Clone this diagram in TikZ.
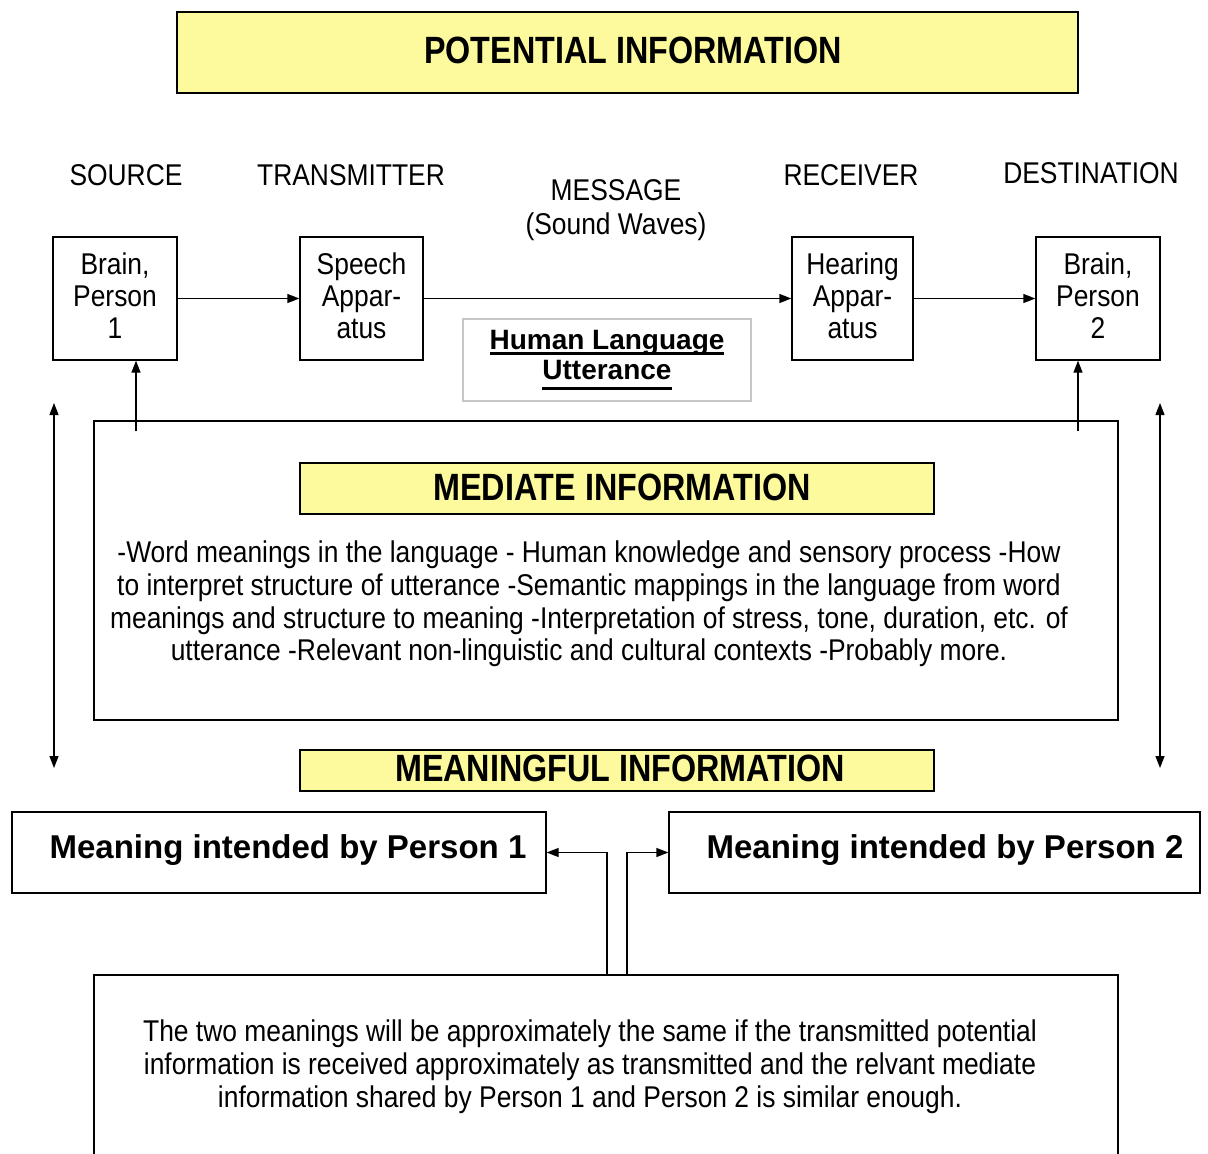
\documentclass[tikz,border=0pt]{standalone}
\usepackage{fontspec}
\setmainfont{Liberation Sans}
\newfontfamily\cnd{Liberation Sans}[FakeStretch=0.88]
\newfontfamily\cndt{Liberation Sans}[FakeStretch=0.85]
\usetikzlibrary{arrows.meta}
\definecolor{pale}{RGB}{252,250,156}
\newcommand\thickul[2]{\setbox0\hbox{#2}\rlap{\rule[#1]{\wd0}{3pt}}\box0}
\tikzset{
  box/.style={draw, line width=1.3pt, inner sep=0pt, align=center},
  ybox/.style={box, fill=pale},
  lbl/.style={font=\cnd\fontsize{30}{32}\selectfont, align=center, inner sep=0pt},
  ttl/.style={font=\cndt\bfseries\fontsize{38}{40}\selectfont, inner sep=0pt},
  body/.style={font=\cnd\fontsize{30}{32.7}\selectfont, align=center, inner sep=0pt},
  arr/.style={line width=1.3pt, -{Triangle[length=12pt,width=9pt]}},
  darr/.style={line width=1.3pt, {Triangle[length=12pt,width=9pt]}-{Triangle[length=12pt,width=9pt]}}
}
\begin{document}
\begin{tikzpicture}[x=1pt,y=-1pt]
\useasboundingbox (0,0) rectangle (1208,1154);
% potential information
\node[ybox, minimum width=901pt, minimum height=81pt] (pot) at (627.5,52.5) {};
\node[ttl] (potT) at (633,50) {POTENTIAL INFORMATION};
% header labels
\node[lbl] (src) at (126,175) {SOURCE};
\node[lbl] (trn) at (351,175) {TRANSMITTER};
\node[lbl, font=\cnd\fontsize{30}{34}\selectfont] (msg) at (616,210) {MESSAGE\\(Sound Waves)};
\node[lbl] (rcv) at (851,175) {RECEIVER};
\node[lbl] (dst) at (1091,173) {DESTINATION};
% chain boxes
\node[box, lbl, draw, line width=1.3pt, minimum width=124pt, minimum height=123pt] (p1) at (115,298.5) {Brain,\\Person\\1\vphantom{)}};
\node[box, lbl, draw, line width=1.3pt, minimum width=123pt, minimum height=123pt] (sp) at (361.5,298.5) {Speech\\Appar-\\atus\vphantom{p}};
\node[box, lbl, draw, line width=1.3pt, minimum width=121pt, minimum height=123pt] (hr) at (852.5,298.5) {Hearing\\Appar-\\atus\vphantom{p}};
\node[box, lbl, draw, line width=1.3pt, minimum width=124pt, minimum height=123pt] (p2) at (1098,298.5) {Brain,\\Person\\2\vphantom{)}};
\draw[arr] (p1) -- (sp);
\draw[arr] (sp) -- (hr);
\draw[arr] (hr) -- (p2);
% human language utterance
\node[draw=black!22, line width=1.3pt, minimum width=288pt, minimum height=82pt, inner sep=0pt] (hlu) at (607,360) {};
\node[font=\bfseries\fontsize{28}{30}\selectfont, align=center, inner sep=0pt, anchor=base] (hluT) at (607,379)
      {\thickul{-5.5pt}{Human Language}\\\thickul{-10.5pt}{Utterance}};
% mediate information
\node[box, minimum width=1024pt, minimum height=299pt] (med) at (606,570.5) {};
\node[ybox, minimum width=634pt, minimum height=51pt] (medT) at (617,488.5) {};
\node[ttl] (medTT) at (622,487) {MEDIATE INFORMATION};
\node[body] (medB) at (589,604)
 {-Word meanings in the language - Human knowledge and sensory process -How\\
  to interpret structure of utterance -Semantic mappings in the language from word\\
  meanings and structure to meaning -Interpretation of stress, tone, duration, etc. of\\
  utterance -Relevant non-linguistic and cultural contexts -Probably more.};
\coordinate (m1) at (136,431);
\coordinate (m2) at (1078,431);
\draw[arr] (m1) -- (m1 |- p1.south);
\draw[arr] (m2) -- (m2 |- p2.south);
% side double arrows
\coordinate (l1) at (54,403);
\coordinate (l2) at (54,768);
\coordinate (r1) at (1160,403);
\coordinate (r2) at (1160,768);
\draw[darr] (l1) -- (l2);
\draw[darr] (r1) -- (r2);
% meaningful information
\node[ybox, minimum width=634pt, minimum height=41pt] (mfl) at (617,770.5) {};
\node[ttl] (mflT) at (620,768) {MEANINGFUL INFORMATION};
\node[box, minimum width=534pt, minimum height=81pt] (mp1) at (279,852.5) {};
\node[font=\bfseries\fontsize{33}{35}\selectfont, inner sep=0pt] (mp1T) at (288,850) {Meaning intended by Person 1};
\node[box, minimum width=531pt, minimum height=81pt] (mp2) at (934.5,852.5) {};
\node[font=\bfseries\fontsize{33}{35}\selectfont, inner sep=0pt] (mp2T) at (945,850) {Meaning intended by Person 2};
% bottom box
\node[box, minimum width=1024pt, minimum height=215pt] (bot) at (606,1082.5) {};
\node[body, font=\cnd\fontsize{30}{33}\selectfont] (botB) at (590,1067)
 {The two meanings will be approximately the same if the transmitted potential\\
  information is received approximately as transmitted and the relvant mediate\\
  information shared by Person 1 and Person 2 is similar enough.};
\coordinate (b1) at (607,975);
\coordinate (b2) at (627,975);
\draw[arr] (b1) |- (mp1.east);
\draw[arr] (b2) |- (mp2.west);
\end{tikzpicture}
\end{document}
